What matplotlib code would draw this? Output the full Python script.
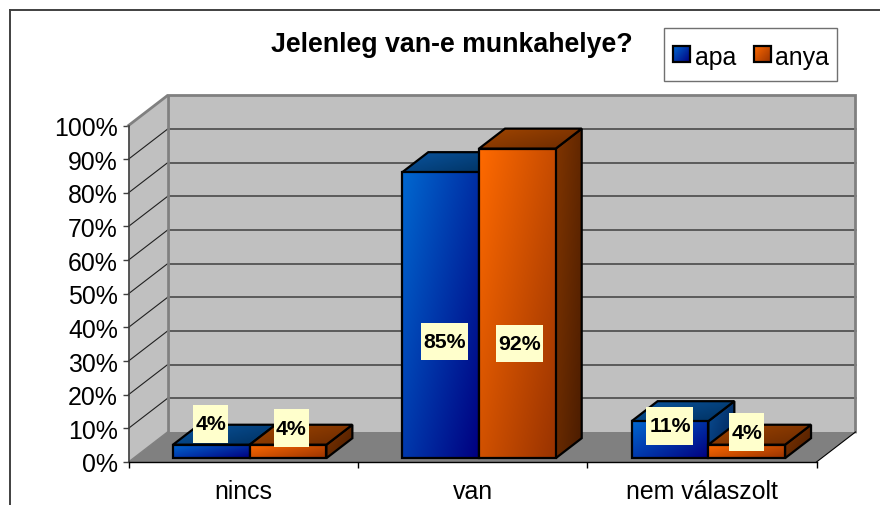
import numpy as np
import matplotlib
matplotlib.use('Agg')
import matplotlib.pyplot as plt
from matplotlib.colors import to_rgb
from matplotlib.patches import Polygon, Rectangle

plt.rcParams['font.family'] = ['Liberation Sans', 'DejaVu Sans']

# data
categories = ['nincs', 'van', 'nem válaszolt']
series_names = ['apa', 'anya']
apa = [4, 85, 11]
anya = [4, 92, 4]
y_ticks = list(range(0, 101, 10))
title = 'Jelenleg van-e munkahelye?'

# label box centres: x shift from bar centre in px, height on the value axis
label_dx = [[-0.5, 3.5, 0.0], [3.0, 2.5, 0.0]]
label_h = [[11.3, 35.8, 10.8], [10.1, 35.2, 8.9]]

# colours (front, side, top): top-left colour -> bottom-right colour
colors = {
    'apa': [('#0068D0', '#000080'), ('#0A4F96', '#001F50'), ('#0A559F', '#00305F')],
    'anya': [('#FF6A00', '#993300'), ('#803500', '#4A1C00'), ('#A04500', '#6B2A00')],
}

W, H = 880, 506
fig = plt.figure(figsize=(W / 100, H / 100), dpi=100)

# page layer in pixels, for frame, title and legend
page = fig.add_axes([0, 0, 1, 1])
page.set_xlim(0, W)
page.set_ylim(H, 0)
page.axis('off')

# main axes is the front plane of the 3D box
left, right, top, bottom = 128.5, 816.5, 126.5, 463.0
ax = fig.add_axes([left / W, 1 - bottom / H, (right - left) / W, (bottom - top) / H])
ax.patch.set_alpha(0)
ax.set_xlim(0, len(categories))
ax.set_ylim(0, 100)
PX = len(categories) / (right - left)
PY = 100 / (bottom - top)
DX, DY = 39 * PX, 30 * PY       # box depth
BW = 76.7 * PX                  # bar width


def gradient(target, poly, c0, c1, zorder, ux=0.55):
    # diagonal gradient clipped to a polygon
    u, v = np.meshgrid(np.linspace(0, 1, 64), np.linspace(0, 1, 64))
    t = (ux * u + (1 - ux) * v)[..., None]
    img = np.array(to_rgb(c0)) * (1 - t) + np.array(to_rgb(c1)) * t
    xs, ys = zip(*poly)
    lims = target.get_xlim(), target.get_ylim()
    # row 0 of the image must stay at the top on both y directions
    inverted = lims[1][0] > lims[1][1]
    ext = [min(xs), max(xs), max(ys), min(ys)] if inverted else [min(xs), max(xs), min(ys), max(ys)]
    im = target.imshow(img, extent=ext, aspect='auto', zorder=zorder,
                       origin='upper', interpolation='bilinear')
    clip = Polygon(poly, closed=True, transform=target.transData, fc='none', ec='none')
    target.add_patch(clip)
    im.set_clip_path(clip)
    target.set_xlim(*lims[0])
    target.set_ylim(*lims[1])
    target.add_patch(Polygon(poly, closed=True, fc='none', ec='black', lw=1.6,
                             zorder=zorder + 0.1, clip_on=False, joinstyle='miter'))


def bar3d(x0, value, cols, zorder):
    y0 = DY / 6 - 1.2 * PY
    x1, y1 = x0 + BW, y0 + value
    dx, dy = DX * 2 / 3, DY * 2 / 3
    gradient(ax, [(x1, y0), (x1 + dx, y0 + dy), (x1 + dx, y1 + dy), (x1, y1)], *cols[1], zorder)
    gradient(ax, [(x0, y1), (x1, y1), (x1 + dx, y1 + dy), (x0 + dx, y1 + dy)], *cols[2], zorder + 0.2)
    gradient(ax, [(x0, y0), (x1, y0), (x1, y1), (x0, y1)], *cols[0], zorder + 0.4)


# walls and floor
n = len(categories)
ax.add_patch(Polygon([(0, 0), (DX, DY), (n + DX, DY), (n, 0)], fc='#808080', ec='none', clip_on=False, zorder=1))
ax.add_patch(Polygon([(0, 0), (DX, DY), (DX, 100 + DY), (0, 100)], fc='#C0C0C0', ec='none', clip_on=False, zorder=1))
ax.add_patch(Rectangle((DX, DY), n, 100, fc='#C0C0C0', ec='none', clip_on=False, zorder=1))

for v in y_ticks[1:-1]:
    ax.plot([DX, n + DX], [v + DY, v + DY], color='#404040', lw=1.1, clip_on=False, zorder=2)
for v in y_ticks[1:-1]:
    ax.plot([0, DX], [v, v + DY], color='#202020', lw=0.8, clip_on=False, zorder=2)

ax.plot([DX, DX], [DY, 100 + DY], color='#808080', lw=2, clip_on=False, zorder=2.5)
ax.plot([0, DX, n + DX, n + DX], [100, 100 + DY, 100 + DY, DY], color='#808080', lw=2,
        clip_on=False, zorder=2.5, solid_joinstyle='miter')
ax.plot([0, DX], [0, DY], color='#808080', lw=1, clip_on=False, zorder=2.5)
ax.plot([n, n + DX], [0, DY], color='black', lw=0.8, clip_on=False, zorder=2.5)

# bars
off = (1 - 2 * BW) / 2 + DX / 6
for i in range(n):
    for s, (name, vals) in enumerate(zip(series_names, [apa, anya])):
        bar3d(i + off + s * BW, vals[i], colors[name], 3 + i + s * 0.5)

# value labels
for i in range(n):
    for s, vals in enumerate([apa, anya]):
        txt = f'{vals[i]}%'
        cx = i + off + s * BW + BW / 2 + label_dx[s][i] * PX
        cy = label_h[s][i]
        w = (47 if vals[i] > 9 else 35) * PX
        h = 37.7 * PY
        ax.add_patch(Rectangle((cx - w / 2, cy - h / 2), w, h, fc='#FFFFCC', ec='none', zorder=8, clip_on=False))
        ax.text(cx, cy, txt, ha='center', va='center', fontsize=15.3, fontweight='bold',
                color='black', zorder=9, clip_on=False)

# axes
for side in ['top', 'right']:
    ax.spines[side].set_visible(False)
ax.spines['left'].set_color('#404040')
ax.spines['left'].set_linewidth(1.2)
ax.spines['bottom'].set_color('black')
ax.spines['bottom'].set_linewidth(1.0)
ax.spines['left'].set_zorder(12)
ax.spines['bottom'].set_zorder(12)
ax.set_yticks(y_ticks)
ax.set_yticklabels([f'{v}%' for v in y_ticks], fontsize=17.9, color='black')
ax.set_xticks(range(n + 1))
ax.set_xticklabels([])
ax.set_xticks([i + 0.5 for i in range(n)], minor=True)
ax.set_xticklabels(categories, minor=True, fontsize=17.9, color='black')
ax.tick_params(axis='y', length=4, width=1, color='#404040', pad=3.6)
ax.tick_params(axis='x', which='major', length=4, width=1, color='black')
ax.tick_params(axis='x', which='minor', length=0, pad=12)

# frame, only top and left are inside the image
page.plot([9.5, W], [11, 11], color='#404040', lw=1.4)
page.plot([9.5, 9.5], [11, H], color='#404040', lw=1.4)

page.text(451.5, 45, title, ha='center', va='center', fontsize=19.3, fontweight='bold', color='black')

# legend
page.add_patch(Rectangle((664, 28.5), 172.5, 53, fc='white', ec='#707070', lw=1))
for x_sw, x_txt, name in zip([673, 754], [695, 775.5], series_names):
    gradient(page, [(x_sw, 47), (x_sw + 16.5, 47), (x_sw + 16.5, 63), (x_sw, 63)],
             colors[name][0][0], colors[name][0][1], 3)
    page.text(x_txt, 55, name, ha='left', va='center_baseline', fontsize=17.9, color='black', zorder=4)

fig.savefig('out.png', dpi=100)
